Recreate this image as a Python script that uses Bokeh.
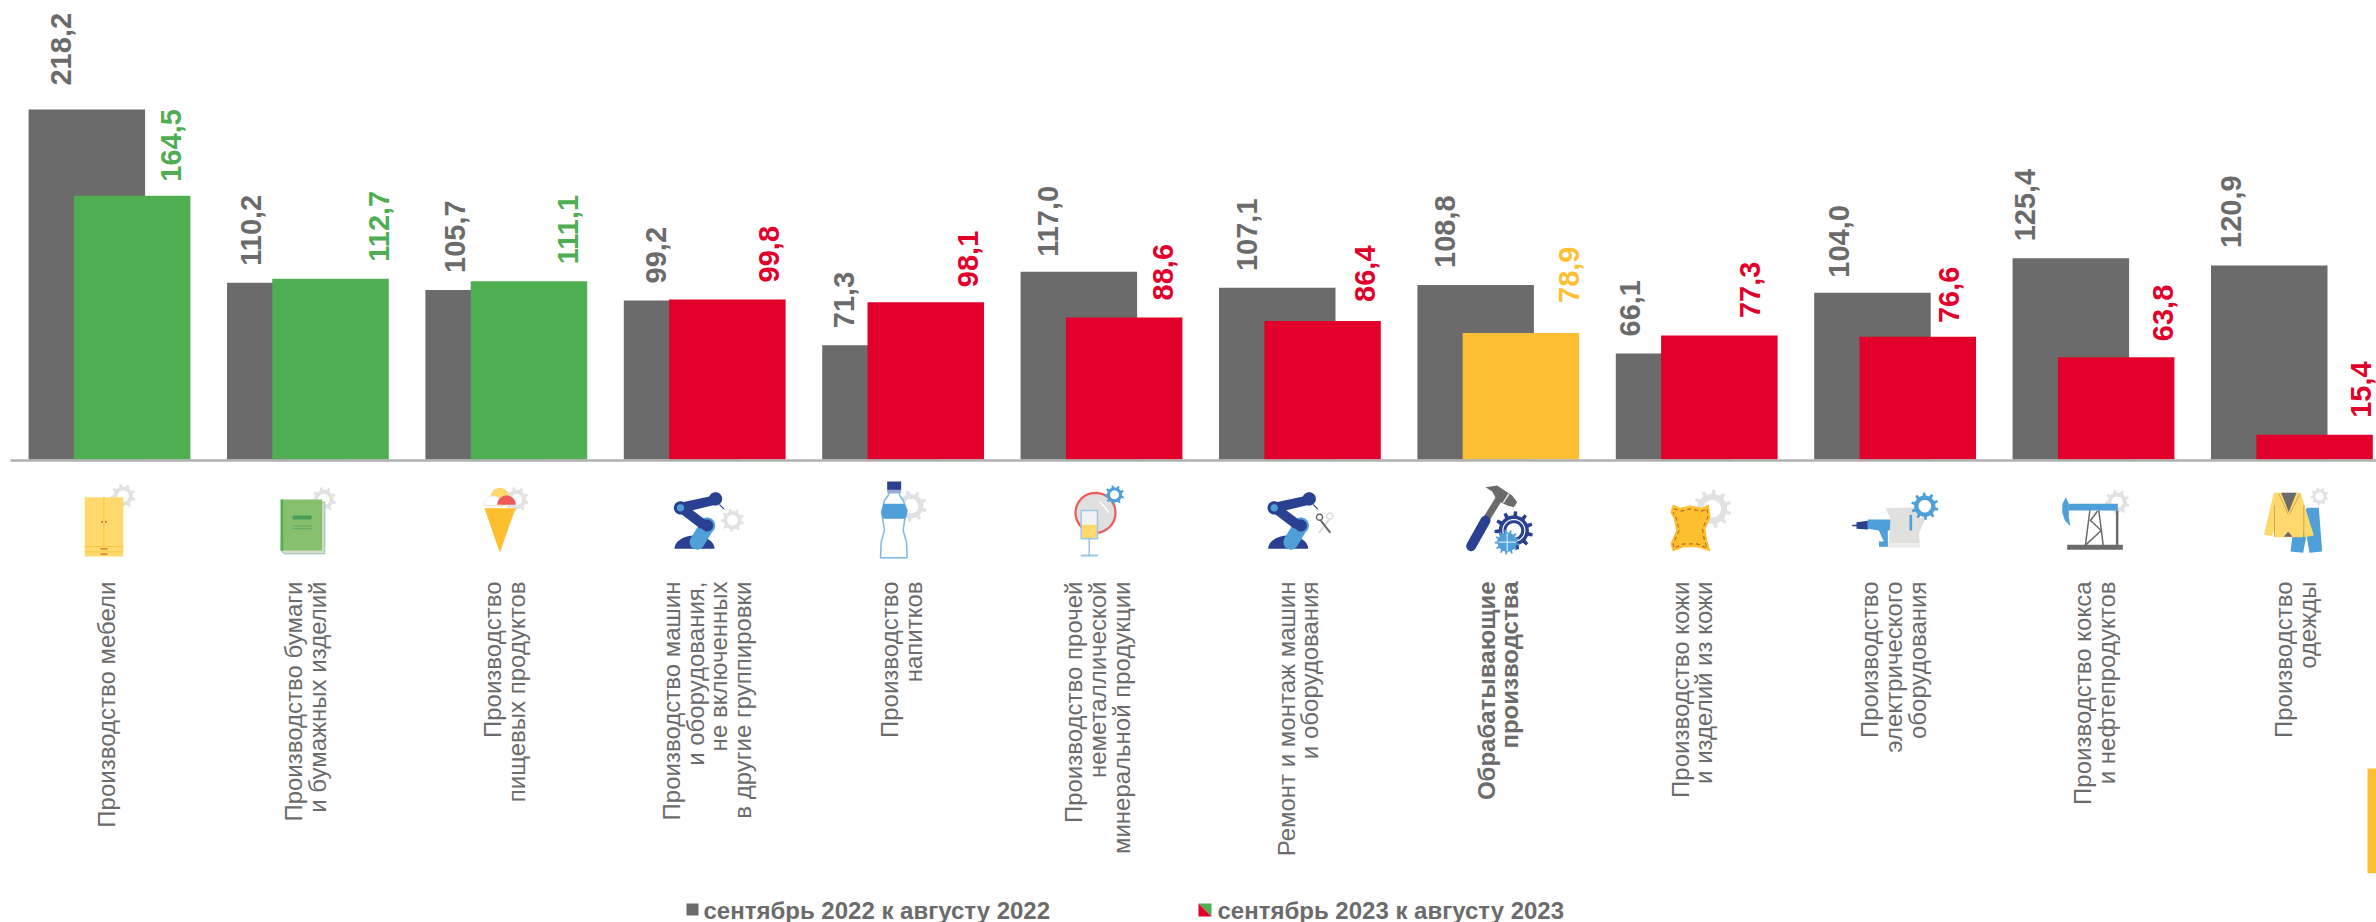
from math import pi, cos, sin
from bokeh.plotting import figure
from bokeh.models import Range1d
from bokeh.core.properties import value
from bokeh.embed import file_html
from bokeh.resources import INLINE

# ---------- data ----------
categories = [
    ["Производство мебели"],
    ["Производство бумаги", "и бумажных изделий"],
    ["Производство", "пищевых продуктов"],
    ["Производство машин", "и оборудования,", "не включенных", "в другие группировки"],
    ["Производство", "напитков"],
    ["Производство прочей", "неметаллической", "минеральной продукции"],
    ["Ремонт и монтаж машин", "и оборудования"],
    ["Обрабатывающие", "производства"],
    ["Производство кожи", "и изделий из кожи"],
    ["Производство", "электрического", "оборудования"],
    ["Производство кокса", "и нефтепродуктов"],
    ["Производство", "одежды"],
]
sep_2022 = [218.2, 110.2, 105.7, 99.2, 71.3, 117.0, 107.1, 108.8, 66.1, 104.0, 125.4, 120.9]
sep_2023 = [164.5, 112.7, 111.1, 99.8, 98.1, 88.6, 86.4, 78.9, 77.3, 76.6, 63.8, 15.4]
legend_labels = ["сентябрь 2022 к августу 2022", "сентябрь 2023 к августу 2023"]

# ---------- styles / layout ----------
GRAY, GREEN, RED, YEL = "#6b6b6b", "#4fae52", "#e2002b", "#febf35"
NAVY, BLUE, GEAR, PALE = "#2a4090", "#4f9fd8", "#e2e2e2", "#ffd96e"
FONT = "Liberation Sans"
PERIOD, ZERO_PX, PX_PER_UNIT, FIRST_PX = 198.4, 459.0, 1.604, 109.0
new_colors = [GREEN] * 3 + [RED] * 4 + [YEL] + [RED] * 4


def fx(px):
    return (px - FIRST_PX) / PERIOD


def fy(py):
    return (ZERO_PX - py) / PX_PER_UNIT


p = figure(width=2376, height=922, output_backend="svg", toolbar_location=None,
           x_range=Range1d(fx(0), fx(2376)), y_range=Range1d(fy(922), fy(0)),
           min_border=0, outline_line_color=None, background_fill_color="white",
           border_fill_color="white")
p.axis.visible = False
p.grid.visible = False

# ---------- bars ----------
n = len(categories)
idx = list(range(n))
BAR_W = 116.5 / PERIOD
OFF = 22.65 / PERIOD
p.vbar(x=[i - OFF for i in idx], top=sep_2022, bottom=0, width=BAR_W, fill_color=GRAY, line_color=None)
p.vbar(x=[i + OFF for i in idx], top=sep_2023, bottom=0, width=BAR_W, fill_color=new_colors, line_color=None)
p.line([fx(10), fx(2376)], [fy(460), fy(460)], line_color="#b0b0b0", line_width=2.5)

# value labels: label centre in px, gap between bar top and text
gray_px = [60, 250, 454, 655.6, 843, 1047, 1246, 1444, 1629.6, 1838.8, 2024, 2230]
new_px = [170, 378.6, 567, 768, 967, 1162, 1364, 1568, 1749.5, 1948, 2162.7, 2360.7]
gray_gap = [24, 17, 17, 17, 17, 15, 16.7, 17, 17, 15, 17, 17.6]
new_gap = [14, 17, 17, 17, 15, 17, 19, 30, 17.5, 13.6, 16, 17]
fmt = lambda v: f"{v:.1f}".replace(".", ",")
p.text([fx(v) for v in gray_px], [v + g / PX_PER_UNIT for v, g in zip(sep_2022, gray_gap)],
       text=[fmt(v) for v in sep_2022], angle=pi / 2, text_align="left", text_baseline="middle",
       text_font=value(FONT), text_font_style="bold", text_font_size="29px", text_color=GRAY)
p.text([fx(v) for v in new_px], [v + g / PX_PER_UNIT for v, g in zip(sep_2023, new_gap)],
       text=[fmt(v) for v in sep_2023], angle=pi / 2, text_align="left", text_baseline="middle",
       text_font=value(FONT), text_font_style="bold", text_font_size="29px",
       text_color=new_colors)

# category labels
label_px = [106, 305, 504, 706.5, 901, 1097, 1297.5, 1497.5, 1691.5, 1893, 2094, 2295]
LINE_H = 23.7
for i, lines in enumerate(categories):
    k = len(lines)
    xs = [fx(label_px[i] + (j - (k - 1) / 2) * LINE_H) for j in range(k)]
    p.text(xs, [fy(581)] * k, text=lines, angle=pi / 2, text_align="right", text_baseline="middle",
           text_font=value(FONT), text_font_size="24px", text_color=GRAY,
           text_font_style="bold" if i == 7 else "normal")

# legend
p.quad(left=[fx(686)], right=[fx(698)], top=[fy(903)], bottom=[fy(915)], fill_color=GRAY, line_color=None)
p.patch([fx(1198), fx(1211), fx(1211)], [fy(903), fy(903), fy(916)], fill_color=GREEN, line_color=None)
p.patch([fx(1198), fx(1198), fx(1211)], [fy(903), fy(916), fy(916)], fill_color=RED, line_color=None)
p.text([fx(703), fx(1217)], [fy(909.5), fy(909.5)], text=legend_labels, text_align="left", text_baseline="middle",
       text_font=value(FONT), text_font_style="bold", text_font_size="24px", text_color=GRAY)

# yellow marker at right edge
p.quad(left=[fx(2367)], right=[fx(2376)], top=[fy(768)], bottom=[fy(872.7)], fill_color=YEL, line_color=None)


# ---------- icons (pictograms, drawn in page pixels) ----------
def poly(pts, ox, oy, color, line=None, lw=1.0):
    p.patch([fx(ox + a / 3) for a, b in pts], [fy(oy + b / 3) for a, b in pts],
            fill_color=color, line_color=line, line_width=lw)


def rect(a0, b0, a1, b1, ox, oy, color):
    poly([(a0, b0), (a1, b0), (a1, b1), (a0, b1)], ox, oy, color)


def line(a0, b0, a1, b1, ox, oy, color, lw=1.5, cap="round", dash="solid"):
    p.line([fx(ox + a0 / 3), fx(ox + a1 / 3)], [fy(oy + b0 / 3), fy(oy + b1 / 3)], line_color=color,
           line_width=lw, line_cap=cap, line_dash=dash)


def circ(a, b, r, ox, oy, color, line_c=None, lw=1.0, a0=0.0, a1=2 * pi, ry=None):
    ry = r if ry is None else ry
    m = 40
    pts = [(a + r * cos(a0 + (a1 - a0) * t / m), b + ry * sin(a0 + (a1 - a0) * t / m)) for t in range(m + 1)]
    poly(pts, ox, oy, color, line_c, lw)


def gear(a, b, r, ox, oy, color, teeth=9, hole="white"):
    pts = []
    for t in range(teeth):
        base = 2 * pi * t / teeth
        step = 2 * pi / teeth
        for frac, rad in [(0.0, 0.78), (0.18, 0.78), (0.27, 1.0), (0.55, 1.0), (0.64, 0.78)]:
            pts.append((a + r * rad * cos(base + frac * step), b + r * rad * sin(base + frac * step)))
    poly(pts, ox, oy, color)
    circ(a, b, r * 0.46, ox, oy, hole)


def robot(ox, oy):
    circ(102, 220, 60, ox, oy, NAVY, a0=pi, a1=2 * pi, ry=40)
    line(110, 200, 140, 150, ox, oy, BLUE, lw=15)
    circ(140, 150, 24, ox, oy, BLUE)
    circ(140, 150, 18, ox, oy, NAVY)
    line(62, 97, 125, 145, ox, oy, NAVY, lw=10)
    poly([(66, 80), (150, 62), (165, 88), (80, 108)], ox, oy, NAVY)
    circ(165, 70, 20, ox, oy, NAVY)
    line(178, 88, 190, 100, ox, oy, NAVY, lw=1.2)
    circ(60, 97, 20, ox, oy, NAVY)
    circ(60, 97, 11, ox, oy, BLUE)


# 1 wardrobe
o = (60, 475)
gear(188, 62, 37, *o, GEAR)
rect(73, 65, 188, 243, *o, PALE)
line(130, 65, 130, 213, *o, "#f7c83f", lw=1)
line(73, 213, 188, 213, *o, "#f7c83f", lw=1)
line(73, 229, 188, 229, *o, "#f7c83f", lw=1)
circ(125, 139, 3, *o, "#c8702a")
circ(136, 139, 3, *o, "#c8702a")
rect(120, 218, 141, 222, *o, "#c8702a")
rect(120, 234, 141, 238, *o, "#c8702a")
# 2 book
gear(790, 72, 37, *o, GEAR)
poly([(665, 80), (793, 80), (793, 235), (670, 235), (662, 225)], *o, "#d8dcd0", "#8cc7a0", 1)
rect(662, 72, 785, 225, *o, "#86c06c")
rect(660, 72, 668, 225, *o, GREEN)
rect(696, 120, 753, 132, *o, "#4a9e5c")
rect(696, 150, 753, 153, *o, "#5aa868")
rect(696, 158, 753, 161, *o, "#5aa868")
# 3 ice cream
gear(1368, 72, 37, *o, GEAR)
circ(1318, 65, 28, *o, PALE)
circ(1298, 90, 28, *o, "white", "#f0e8e0", 1, a0=pi, a1=2 * pi)
circ(1338, 88, 28, *o, "#ee5a5a", a0=pi, a1=2 * pi)
poly([(1272, 98), (1365, 98), (1318, 232)], *o, "#fdbf2d")

# 4 robot + gear
o = (660, 475)
gear(216, 134, 35, *o, GEAR)
robot(*o)
# 5 bottle
gear(752, 92, 47, *o, GEAR)
poly([(685, 52), (683, 60), (672, 75), (663, 110), (668, 140), (672, 165), (662, 200), (660, 247),
      (740, 247), (738, 200), (728, 165), (733, 130), (740, 105), (728, 75), (718, 60), (716, 52)],
     *o, "white", "#7bb8e8", 1.5)
poly([(668, 85), (732, 85), (740, 105), (738, 122), (733, 130), (668, 130), (663, 110)], *o, BLUE)
rect(680, 42, 722, 52, *o, "#a0a8d0")
rect(680, 18, 722, 43, *o, NAVY)
# 6 mirror and glass
circ(1305, 112, 60, *o, "#e0e0e0", "#ee5a5a", 2.2)
line(1320, 80, 1345, 110, *o, "white", lw=1.5)
gear(1362, 58, 29, *o, BLUE)
rect(1262, 105, 1311, 190, *o, "#f2f2f2")
rect(1264, 148, 1309, 188, *o, PALE)
poly([(1262, 105), (1311, 105), (1311, 190), (1262, 190)], *o, None, "#9cc8e8", 1.5)
line(1286, 190, 1286, 240, *o, "#9cc8e8", lw=1.5)
line(1263, 240, 1310, 240, *o, "#9cc8e8", lw=1.8)

# 7 robot + scissors
o = (1240, 475)
robot(1287.7 - 34, 475)
line(268, 130, 237, 170, *o, "#dddddd", lw=2)
circ(268, 122, 9, *o, "white", "#dddddd", 1.5)
line(237, 130, 268, 170, *o, GRAY, lw=2)
circ(237, 125, 9, *o, "white", GRAY, 1.5)
# 8 hammer & gears
line(735, 135, 775, 70, *o, GRAY, lw=7, cap="butt")
line(692, 212, 735, 135, *o, NAVY, lw=10)
poly([(735, 35), (770, 30), (815, 60), (830, 80), (820, 95), (800, 90), (770, 75), (755, 48)], *o, GRAY)
line(805, 55, 788, 82, *o, "#e6e6e6", lw=1.5, cap="butt")
gear(820, 165, 58, *o, NAVY, teeth=11)
circ(820, 165, 33, *o, NAVY, "white", 1.2)
circ(820, 165, 22, *o, "white")
gear(800, 200, 37, *o, BLUE, teeth=13, hole=BLUE)
line(775, 200, 825, 200, *o, "white", lw=0.9)
line(800, 175, 800, 225, *o, "white", lw=0.9)
# 9 leather
gear(1415, 100, 58, *o, GEAR, teeth=11)
poly([(1297, 87), (1320, 97), (1350, 90), (1385, 97), (1405, 87), (1410, 125), (1395, 160), (1400, 195),
      (1410, 228), (1370, 215), (1330, 215), (1297, 228), (1290, 205), (1307, 165), (1300, 130), (1290, 110)],
     *o, "#fdbf2d")
st = [(1300, 100), (1322, 107), (1350, 100), (1383, 107), (1400, 100), (1402, 125), (1386, 160), (1392, 195),
      (1400, 218), (1370, 205), (1330, 205), (1300, 218), (1298, 205), (1316, 165), (1308, 130), (1298, 110)]
p.line([fx(o[0] + a / 3) for a, b in st], [fy(o[1] + b / 3) for a, b in st], line_color="#b9702a",
       line_width=1.2, line_dash="4 3")

# 10 drill & kettle
o = (1830, 475)
poly([(65, 148), (78, 148), (78, 140), (112, 136), (112, 162), (78, 160), (78, 152), (65, 152)], *o, NAVY)
poly([(112, 132), (185, 132), (185, 165), (172, 165), (172, 200), (178, 214), (146, 214), (145, 198), (160, 198),
      (145, 165), (112, 160)], *o, BLUE)
poly([(165, 98), (270, 95), (268, 130), (290, 118), (265, 175), (268, 203), (175, 203), (180, 130)], *o, "#e0e0de")
rect(172, 203, 268, 216, *o, "#ececea")
rect(237, 118, 245, 165, *o, BLUE)
gear(283, 92, 41, *o, BLUE, teeth=10)
# 11 pump jack
gear(860, 80, 37, *o, GEAR)
for a0, b0, a1, b1 in [(778, 105, 765, 208), (805, 105, 818, 208), (800, 108, 780, 135), (780, 135, 812, 165),
                       (812, 165, 766, 208)]:
    line(a0, b0, a1, b1, *o, GRAY, lw=1.5)
line(860, 105, 860, 208, *o, GRAY, lw=2.5, cap="butt")
rect(710, 208, 877, 223, *o, GRAY)
rect(715, 85, 862, 105, *o, BLUE)
poly([(715, 85), (706, 65), (696, 85), (695, 110), (703, 135), (720, 152), (715, 125), (715, 105)], *o, BLUE)
# 12 suit
gear(1467, 63, 27, *o, GEAR)
poly([(1430, 97), (1465, 97), (1475, 228), (1437, 232), (1428, 180), (1418, 232), (1380, 228), (1390, 150)],
     *o, BLUE)
poly([(1330, 52), (1410, 52), (1450, 180), (1422, 185), (1418, 165), (1418, 185), (1332, 185), (1332, 160),
      (1325, 182), (1300, 178)], *o, PALE)
poly([(1352, 52), (1398, 52), (1375, 110)], *o, GRAY)
poly([(1360, 184), (1386, 184), (1373, 168)], *o, GRAY)
line(1345, 55, 1373, 115, *o, "#c9a94a", lw=1)
line(1408, 55, 1378, 115, *o, "#c9a94a", lw=1)
line(1332, 90, 1332, 182, *o, "#c9a94a", lw=1)
line(1420, 90, 1420, 182, *o, "#c9a94a", lw=1)

open("out.html", "w").write(file_html(p, INLINE))
